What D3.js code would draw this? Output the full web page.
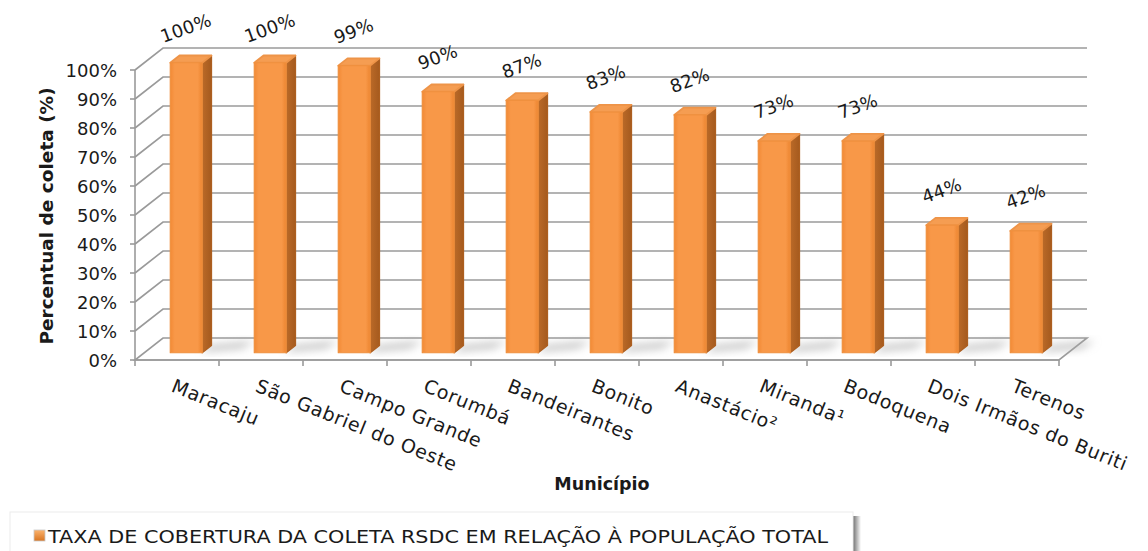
<!DOCTYPE html>
<html>
<head>
<meta charset="utf-8">
<script src="https://cdn.jsdelivr.net/npm/d3@7"></script>
<style>
  html, body { margin: 0; padding: 0; background: #fff; }
  svg { display: block; }
  text { font-family: "DejaVu Sans", sans-serif; fill: #1a1a1a; }
</style>
</head>
<body>
<svg id="chart" width="1148" height="551"></svg>
<script>
const categories = ["Maracaju", "São Gabriel do Oeste", "Campo Grande", "Corumbá", "Bandeirantes",
  "Bonito", "Anastácio²", "Miranda¹", "Bodoquena", "Dois Irmãos do Buriti", "Terenos"];
const values = [100, 100, 99, 90, 87, 83, 82, 73, 73, 44, 42];
const yTicks = [0, 10, 20, 30, 40, 50, 60, 70, 80, 90, 100];
const seriesName = "TAXA DE COBERTURA DA COLETA RSDC EM RELAÇÃO À POPULAÇÃO TOTAL";
const yTitle = "Percentual de coleta (%)";
const xTitle = "Município";

const svg = d3.select("#chart");
const defs = svg.append("defs");

// plot frame: front plane scales plus a depth offset for the 3D walls
const x = d3.scaleBand().domain(categories).range([135, 1059]).paddingInner(0).paddingOuter(0);
const y = d3.scaleLinear().domain([0, 100]).range([360, 70]);
const depth = { dx: 28, dy: -22 };
const P = (px, v, d) => [px + depth.dx * d, y(v) + depth.dy * d];
const xLeft = x.range()[0], xRight = x.range()[1];
const poly = pts => "M" + pts.map(p => p.join(",")).join("L") + "Z";

// gradients
const gFront = defs.append("linearGradient").attr("id", "gFront").attr("x1", 0).attr("x2", 1).attr("y1", 0).attr("y2", 0);
gFront.append("stop").attr("offset", "0%").attr("stop-color", "#f28a36");
gFront.append("stop").attr("offset", "14%").attr("stop-color", "#f89848");
gFront.append("stop").attr("offset", "86%").attr("stop-color", "#f89848");
gFront.append("stop").attr("offset", "100%").attr("stop-color", "#ec8530");
const gSide = defs.append("linearGradient").attr("id", "gSide").attr("x1", 0).attr("x2", 1).attr("y1", 0).attr("y2", 0);
gSide.append("stop").attr("offset", "0%").attr("stop-color", "#bb6a28");
gSide.append("stop").attr("offset", "100%").attr("stop-color", "#a55a1e");
const gLeg = defs.append("linearGradient").attr("id", "gLeg").attr("x1", 0).attr("x2", 0).attr("y1", 0).attr("y2", 1);
gLeg.append("stop").attr("offset", "0%").attr("stop-color", "#fbb36e");
gLeg.append("stop").attr("offset", "100%").attr("stop-color", "#d9741f");
const gShadowLeg = defs.append("linearGradient").attr("id", "gShadowLeg").attr("x1", 0).attr("x2", 1).attr("y1", 0).attr("y2", 0);
gShadowLeg.append("stop").attr("offset", "0%").attr("stop-color", "#6f6f6f");
gShadowLeg.append("stop").attr("offset", "100%").attr("stop-color", "#ffffff");
defs.append("filter").attr("id", "soft").attr("x", "-50%").attr("y", "-50%").attr("width", "200%").attr("height", "200%")
  .append("feGaussianBlur").attr("stdDeviation", 4);

const grid = svg.append("g").attr("stroke", "#9a9a9a").attr("stroke-width", 1.6).attr("fill", "none");

// floor
grid.append("path")
  .attr("d", poly([P(xLeft, 0, 0), P(xRight, 0, 0), P(xRight, 0, 1), P(xLeft, 0, 1)]))
  .attr("fill", "#ffffff");

// side wall and back wall gridlines
yTicks.forEach(t => {
  if (t === 0) return;
  grid.append("path").attr("d", "M" + P(xLeft, t, 0) + "L" + P(xLeft, t, 1) + "L" + P(xRight, t, 1));
});

// floor shadows behind each bar
const bw = x.bandwidth();
const d0 = 0.33, d1 = 0.66;
svg.append("g").attr("filter", "url(#soft)")
  .selectAll("path").data(categories).join("path")
  .attr("d", c => {
    const x1 = x(c) + bw * 0.69;
    return poly([P(x1 - 2, 0, d0 + 0.05), P(x1 + 34, 0, d0 + 0.2), P(x1 + 38, 0, d1 + 0.2), P(x1 - 2, 0, d1)]);
  })
  .attr("fill", "#a8a8a8").attr("opacity", 0.75);

// bars
const bars = svg.append("g").selectAll("g").data(categories.map((c, i) => ({ c, v: values[i] }))).join("g");
bars.each(function(d) {
  const g = d3.select(this);
  const x0 = x(d.c) + bw * 0.31, x1 = x(d.c) + bw * 0.69;
  g.append("path").attr("d", poly([P(x1, 0, d0), P(x1, 0, d1), P(x1, d.v, d1), P(x1, d.v, d0)]))
    .attr("fill", "url(#gSide)").attr("stroke", "#ad5f20").attr("stroke-width", 1.4).attr("stroke-linejoin", "round");
  g.append("path").attr("d", poly([P(x0, d.v, d0), P(x1, d.v, d0), P(x1, d.v, d1), P(x0, d.v, d1)]))
    .attr("fill", "#f59d52").attr("stroke", "#ee9448").attr("stroke-width", 1.8).attr("stroke-linejoin", "round");
  g.append("path").attr("d", poly([P(x0, 0, d0), P(x1, 0, d0), P(x1, d.v, d0), P(x0, d.v, d0)]))
    .attr("fill", "url(#gFront)").attr("stroke", "#f0903e").attr("stroke-width", 1.2).attr("stroke-linejoin", "round");
});

// axes
const axes = svg.append("g").attr("stroke", "#9a9a9a").attr("stroke-width", 1.6);
axes.append("line").attr("x1", xLeft).attr("x2", xLeft).attr("y1", y(0)).attr("y2", y(100));
yTicks.forEach(t => axes.append("line").attr("x1", xLeft - 5).attr("x2", xLeft).attr("y1", y(t)).attr("y2", y(t)));
axes.append("line").attr("x1", xLeft).attr("x2", xRight).attr("y1", y(0)).attr("y2", y(0));
const bounds = categories.map(c => x(c)).concat([xRight]);
bounds.forEach(b => axes.append("line").attr("x1", b).attr("x2", b).attr("y1", y(0)).attr("y2", y(0) + 6));

// y tick labels
svg.append("g").selectAll("text").data(yTicks).join("text")
  .attr("x", 117).attr("y", t => y(t) + 6.5)
  .attr("text-anchor", "end").attr("font-size", 18)
  .text(t => t + "%");

// category labels
svg.append("g").selectAll("text").data(categories).join("text")
  .attr("transform", c => `translate(${x(c) + bw / 2 - 1},${377}) rotate(22)`)
  .attr("dy", "0.8em").attr("font-size", 19).attr("letter-spacing", 0.7)
  .text(c => c);

// value labels
svg.append("g").selectAll("text").data(categories.map((c, i) => ({ c, v: values[i] }))).join("text")
  .attr("transform", d => {
    const p = P(x(d.c) + bw / 2, d.v, 0.5);
    return `translate(${p[0] - 3},${p[1] - 25}) rotate(-20)`;
  })
  .attr("text-anchor", "middle").attr("font-size", 18).attr("letter-spacing", 0.3)
  .text(d => d.v + "%");

// axis titles
svg.append("text").attr("transform", "translate(53,216) rotate(-90)")
  .attr("text-anchor", "middle").attr("font-size", 18.5).attr("font-weight", "bold").text(yTitle);
svg.append("text").attr("x", 602).attr("y", 490)
  .attr("text-anchor", "middle").attr("font-size", 17.5).attr("font-weight", "bold").text(xTitle);

// legend
const leg = svg.append("g");
leg.append("rect").attr("x", 853).attr("y", 516).attr("width", 8).attr("height", 40).attr("fill", "url(#gShadowLeg)");
leg.append("rect").attr("x", 10).attr("y", 512).attr("width", 843).attr("height", 45)
  .attr("fill", "#fff").attr("stroke", "#ececec").attr("stroke-width", 1);
leg.append("rect").attr("x", 34).attr("y", 530).attr("width", 11).attr("height", 11)
  .attr("fill", "url(#gLeg)").attr("stroke", "#c9c9c9").attr("stroke-width", 0.8);
leg.append("text").attr("x", 48).attr("y", 543).attr("font-size", 18)
  .attr("textLength", 780).attr("lengthAdjust", "spacingAndGlyphs")
  .text(seriesName);
</script>
</body>
</html>
